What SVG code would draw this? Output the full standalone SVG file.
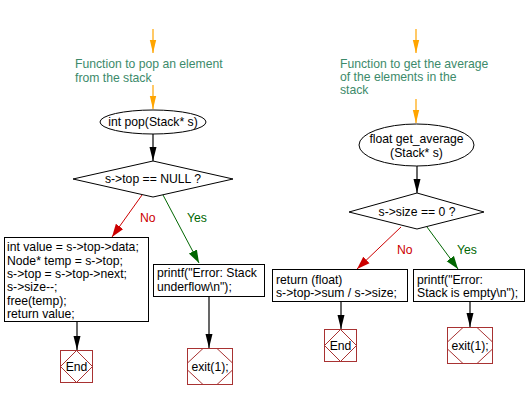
<svg xmlns="http://www.w3.org/2000/svg" width="528" height="401" viewBox="0 0 528 401">
<defs>
<marker id="ao" markerUnits="userSpaceOnUse" markerWidth="14" markerHeight="10" refX="13" refY="4" orient="auto"><path d="M0,0.8 L13,4 L0,7.2 Z" fill="#ffa500"/></marker>
<marker id="ab" markerUnits="userSpaceOnUse" markerWidth="15" markerHeight="10" refX="14" refY="4" orient="auto"><path d="M0,0.5 L14,4 L0,7.5 Z" fill="#000"/></marker>
<marker id="ar" markerUnits="userSpaceOnUse" markerWidth="14" markerHeight="11" refX="13" refY="5" orient="auto"><path d="M0,0.5 L13,5 L0,9.5 Z" fill="#cc0000"/></marker>
<marker id="ag" markerUnits="userSpaceOnUse" markerWidth="14" markerHeight="11" refX="13" refY="5" orient="auto"><path d="M0,0.5 L13,5 L0,9.5 Z" fill="#006600"/></marker>
</defs>
<style>
text{font-family:"Liberation Sans",Arial,sans-serif;font-size:12.2px;fill:#000}
.c{fill:#3c8a6a}
.m{text-anchor:middle}
.no{fill:#cc0000}
.yes{fill:#006600}
.s{fill:#fff;stroke:#000;stroke-width:1}
.t{fill:#fff;stroke:#a83232;stroke-width:1}
.ti{fill:none;stroke:#a83232;stroke-width:1}
.o{stroke:#ffa500;stroke-width:1.2;fill:none;marker-end:url(#ao)}
.k{stroke:#000;stroke-width:1.2;fill:none;marker-end:url(#ab)}
.r{stroke:#cc0000;stroke-width:1;fill:none;marker-end:url(#ar)}
.g{stroke:#006600;stroke-width:1;fill:none;marker-end:url(#ag)}
</style>
<rect width="528" height="401" fill="#fff"/>
<g id="connectors">
<line class="o" x1="153" y1="29" x2="153" y2="53"/>
<line class="o" x1="153" y1="85" x2="153" y2="109"/>
<line class="k" x1="153" y1="134" x2="153" y2="161"/>
<line class="r" x1="142" y1="195" x2="112" y2="237"/>
<line class="g" x1="163" y1="195" x2="199" y2="263"/>
<line class="k" x1="77" y1="322" x2="77" y2="350"/>
<line class="k" x1="209" y1="297" x2="209" y2="348"/>
<line class="o" x1="416" y1="29" x2="416" y2="53"/>
<line class="o" x1="416" y1="99" x2="416" y2="123"/>
<line class="k" x1="417" y1="166" x2="417" y2="193"/>
<line class="r" x1="401" y1="227" x2="357" y2="269"/>
<line class="g" x1="427" y1="227" x2="458" y2="269"/>
<line class="k" x1="341" y1="301" x2="341" y2="329"/>
<line class="k" x1="470" y1="301" x2="470" y2="327"/>
</g>
<g id="comment1">
<text class="c" x="75" y="68">Function to pop an element</text>
<text class="c" x="75" y="82">from the stack</text>
</g>
<g id="pop">
<ellipse class="s" cx="153" cy="122" rx="53" ry="12"/>
<text class="m" x="153" y="126">int pop(Stack* s)</text>
</g>
<g id="cond1">
<polygon class="s" points="153,161 233,179 153,197 73,179"/>
<text class="m" x="153" y="183">s-&gt;top == NULL ?</text>
<text class="no" x="140" y="222">No</text>
<text class="yes" x="187" y="222">Yes</text>
</g>
<g id="popbody">
<rect class="s" x="4.5" y="237.5" width="144" height="84"/>
<text x="7" y="251">int value = s-&gt;top-&gt;data;</text>
<text x="7" y="264.5">Node* temp = s-&gt;top;</text>
<text x="7" y="278">s-&gt;top = s-&gt;top-&gt;next;</text>
<text x="7" y="291">s-&gt;size--;</text>
<text x="7" y="304.5">free(temp);</text>
<text x="7" y="318">return value;</text>
</g>
<g id="end1">
<rect class="t" x="60.5" y="350.5" width="32" height="32"/>
<polygon class="ti" points="76.5,350.5 92.5,366.5 76.5,382.5 60.5,366.5"/>
<text class="m" x="76.5" y="371">End</text>
</g>
<g id="underflow">
<rect class="s" x="153.5" y="264.5" width="111" height="32"/>
<text x="157" y="277">printf("Error: Stack</text>
<text x="157" y="291">underflow\n");</text>
</g>
<g id="exit1">
<rect class="t" x="187.5" y="348.5" width="45" height="36"/>
<polygon class="ti" points="203,348.5 217,348.5 232.5,363 232.5,370 217,384.5 203,384.5 187.5,370 187.5,363"/>
<text class="m" x="210" y="371">exit(1);</text>
</g>
<g id="comment2">
<text class="c" x="340" y="68">Function to get the average</text>
<text class="c" x="340" y="81">of the elements in the</text>
<text class="c" x="340" y="94">stack</text>
</g>
<g id="avg">
<ellipse class="s" cx="416.5" cy="145" rx="57.5" ry="21"/>
<text class="m" x="416.5" y="143">float get_average</text>
<text class="m" x="416.5" y="157">(Stack* s)</text>
</g>
<g id="cond2">
<polygon class="s" points="417,193 484,212 417,229 349,212"/>
<text class="m" x="417" y="216">s-&gt;size == 0 ?</text>
<text class="no" x="397" y="254">No</text>
<text class="yes" x="457" y="254">Yes</text>
</g>
<g id="ret">
<rect class="s" x="272.5" y="269.5" width="135" height="32"/>
<text x="276" y="284">return (float)</text>
<text x="276" y="297">s-&gt;top-&gt;sum / s-&gt;size;</text>
</g>
<g id="end2">
<rect class="t" x="324.5" y="329.5" width="32" height="32"/>
<polygon class="ti" points="340.5,329.5 356.5,345.5 340.5,361.5 324.5,345.5"/>
<text class="m" x="340.5" y="350">End</text>
</g>
<g id="empty">
<rect class="s" x="413.5" y="269.5" width="111" height="32"/>
<text x="417" y="284">printf("Error:</text>
<text x="417" y="297">Stack is empty\n");</text>
</g>
<g id="exit2">
<rect class="t" x="447.5" y="327.5" width="45" height="36"/>
<polygon class="ti" points="463,327.5 477,327.5 492.5,342 492.5,349 477,363.5 463,363.5 447.5,349 447.5,342"/>
<text class="m" x="470" y="350">exit(1);</text>
</g>
</svg>
